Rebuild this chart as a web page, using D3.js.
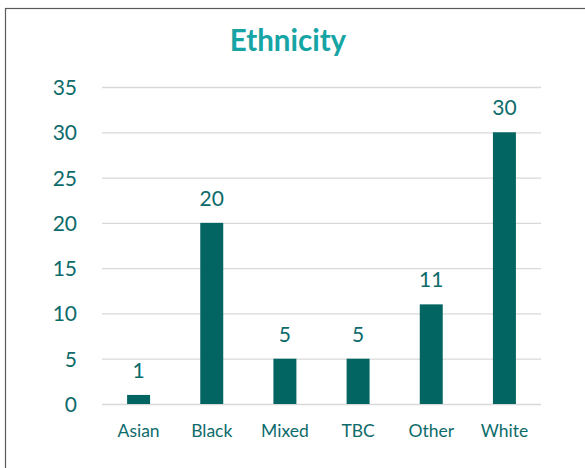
<!DOCTYPE html>
<html><head><meta charset="utf-8">
<script src="https://cdn.jsdelivr.net/npm/d3@7"></script>
<style>body{margin:0;background:#fff;}svg{display:block;}</style>
</head><body>
<svg id="c" width="585" height="468"></svg>
<script>
const categories = ["Asian","Black","Mixed","TBC","Other","White"];
const values = [1,20,5,5,11,30];
const yTicks = [0,5,10,15,20,25,30,35];
const title = "Ethnicity";

(function(){
const svg = d3.select("#c");
const font = "Lato, 'Open Sans', sans-serif";
const textCol = "#0d6b6b";
const barCol = "#036562";

svg.append("rect").attr("x",5.5).attr("y",8.5).attr("width",640).attr("height",520)
  .attr("fill","#fff").attr("stroke","#5a5a5a").attr("stroke-width",1.2);

const pl=102, pr=541, pt=87, pb=404;
const x = d3.scaleBand().domain(categories).range([pl,pr]).paddingInner(0.686).paddingOuter(0.343);
const y = d3.scaleLinear().domain([0,35]).range([pb,pt]);

svg.append("text").attr("x",288).attr("y",51).attr("text-anchor","middle")
  .attr("font-family",font).attr("font-weight","bold").attr("font-size",29.5)
  .attr("fill","#17a4a4").text(title);

const yAxis = d3.axisLeft(y).tickValues(yTicks).tickSize(-(pr-pl)).tickPadding(25);
const gy = svg.append("g").attr("transform",`translate(${pl},0)`).call(yAxis);
gy.select(".domain").remove();
gy.selectAll(".tick line").attr("stroke","#d9d9d9").attr("stroke-width",1.3);
gy.selectAll(".tick text").attr("font-family",font).attr("font-size",21).attr("fill",textCol).attr("dy","0.36em");

svg.selectAll("rect.bar").data(values).join("rect").attr("class","bar")
  .attr("x",(d,i)=>x(categories[i])).attr("width",x.bandwidth())
  .attr("y",d=>y(d)).attr("height",d=>pb-y(d)).attr("fill",barCol);

svg.selectAll("text.val").data(values).join("text").attr("class","val")
  .attr("x",(d,i)=>x(categories[i])+x.bandwidth()/2).attr("y",d=>y(d)-17)
  .attr("text-anchor","middle").attr("font-family",font).attr("font-size",21)
  .attr("fill",textCol).text(d=>d);

const xAxis = d3.axisBottom(x).tickSize(0).tickPadding(21);
const gx = svg.append("g").attr("transform",`translate(0,${pb})`).call(xAxis);
gx.select(".domain").remove();
gx.selectAll(".tick text").attr("font-family",font).attr("font-size",17.5).attr("fill",textCol);
})();
</script>
</body></html>
